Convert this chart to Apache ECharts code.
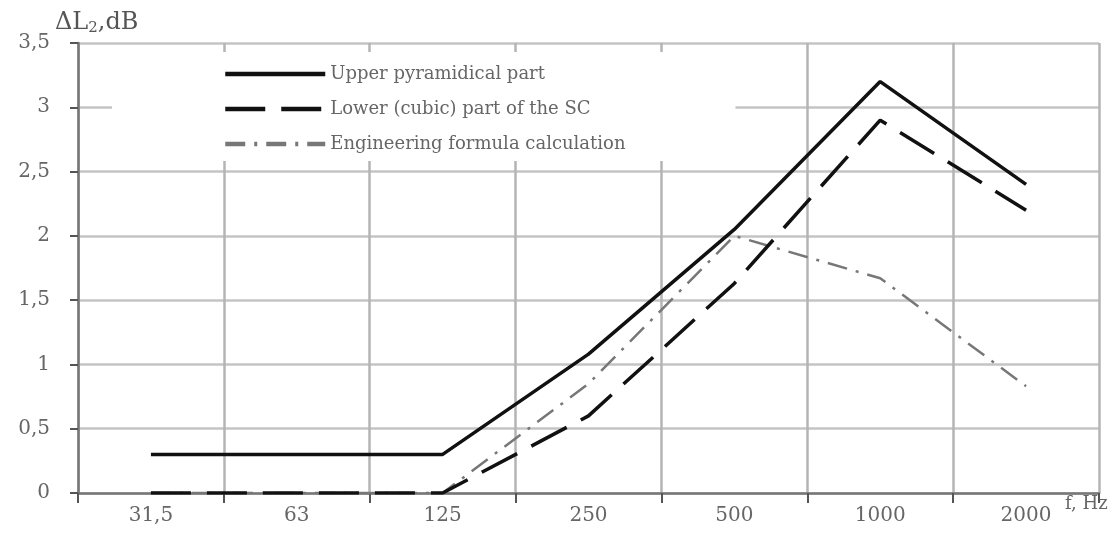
<!DOCTYPE html>
<html>
<head>
<meta charset="utf-8">
<script src="https://cdn.jsdelivr.net/npm/echarts@6/dist/echarts.min.js"></script>
<style>
  html, body { margin: 0; padding: 0; background: #fff; }
  #main { width: 1120px; height: 533px; }
</style>
</head>
<body>
<div id="main"></div>
<script>
// frequency bands, Hz
var freqs = ['31,5', '63', '125', '250', '500', '1000', '2000'];
// delta L2, dB
var upperPart = [0.3, 0.3, 0.3, 1.08, 2.05, 3.2, 2.4];
var lowerPart = [0, 0, 0, 0.6, 1.63, 2.9, 2.2];
var engFormula = [0, 0, 0, 0.85, 2.0, 1.67, 0.83];
var seriesNames = ['Upper pyramidical part', 'Lower (cubic) part of the SC', 'Engineering formula calculation'];

var chart = echarts.init(document.getElementById('main'));
var serif = 'DejaVu Serif';

var option = {
    animation: false,
    backgroundColor: '#fff',
    title: {
        text: '{a|ΔL}{s|2}{a|,dB}',
        left: 50,
        top: 4,
        textStyle: {
            fontWeight: 'normal',
            rich: {
                a: { fontFamily: serif, fontSize: 24, color: '#555' },
                s: { fontFamily: serif, fontSize: 15, color: '#555', padding: [12, 0, 0, 0] }
            }
        }
    },
    legend: {
        orient: 'vertical',
        left: 112,
        top: 52,
        padding: [13, 110, 8, 111],
        backgroundColor: '#fff',
        itemWidth: 100,
        itemHeight: 14,
        itemGap: 17,
        data: seriesNames,
        itemStyle: { opacity: 0 },
        lineStyle: { width: 4.5 },
        textStyle: { fontFamily: serif, fontSize: 18, color: '#666' }
    },
    grid: { left: 78, right: 21, top: 43, bottom: 40 },
    xAxis: {
        type: 'category',
        data: freqs,
        boundaryGap: true,
        name: 'f, Hz',
        nameLocation: 'end',
        nameGap: -34,
        nameTextStyle: { fontFamily: serif, fontSize: 18, color: '#666', align: 'left', verticalAlign: 'top', padding: [2, 0, 0, 0] },
        axisLine: { lineStyle: { color: '#777', width: 2.5 } },
        axisTick: { show: true, length: 10, lineStyle: { color: '#555', width: 2 } },
        axisLabel: { fontFamily: serif, fontSize: 20, color: '#666', margin: 13 },
        splitLine: { show: true, lineStyle: { color: '#b4b4b4', width: 2.5 } }
    },
    yAxis: {
        type: 'value',
        min: 0,
        max: 3.5,
        interval: 0.5,
        axisLine: { show: true, lineStyle: { color: '#777', width: 2.5 } },
        axisTick: { show: true, length: 8, lineStyle: { color: '#555', width: 2 } },
        axisLabel: {
            fontFamily: serif, fontSize: 20, color: '#666', margin: 28,
            formatter: function (v) { return String(v).replace('.', ','); }
        },
        splitLine: { show: true, lineStyle: { color: '#c4c4c4', width: 2.5 } }
    },
    series: [
        {
            name: seriesNames[0],
            type: 'line',
            data: upperPart,
            symbol: 'none',
            z: 5,
            lineStyle: { color: '#111', width: 3.5, type: 'solid' }
        },
        {
            name: seriesNames[1],
            type: 'line',
            data: lowerPart,
            symbol: 'none',
            z: 4,
            lineStyle: { color: '#111', width: 3.5, type: [40, 16] }
        },
        {
            name: seriesNames[2],
            type: 'line',
            data: engFormula,
            symbol: 'none',
            z: 3,
            lineStyle: { color: '#777', width: 2.5, type: [20, 9, 3, 9] }
        }
    ]
};
chart.setOption(option, true);
</script>
</body>
</html>
